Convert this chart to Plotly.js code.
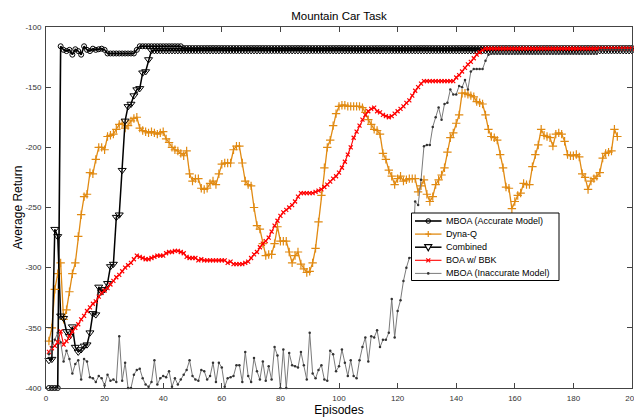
<!DOCTYPE html>
<html>
<head>
<meta charset="utf-8">
<script src="https://cdn.plot.ly/plotly-3.0.1.min.js"></script>
<style>
  html, body { margin: 0; padding: 0; background: #fff; }
  #chart { width: 634px; height: 417px; }
</style>
</head>
<body>
<div id="chart"></div>
<script>
// Average return per episode (episodes start at 1)
const mboaAccurate = [
  -400, -400, -400, -400, -116, -119, -120, -119, -123, -118.5,
  -120, -123, -116, -119, -120, -118, -119, -118.5, -118, -119,
  -122, -122, -122, -122, -122, -122, -122, -122, -122, -122,
  -119, -116, -116, -116, -116, -116, -116, -116, -116, -116,
  -116, -116, -116, -116, -116, -116, -117.5, -117.5, -117.5, -117.5,
  -117.5, -117.5, -117.5, -117.5, -117.5, -117.5, -117.5, -117.5, -117.5, -117.5,
  -117.5, -117.5, -117.5, -117.5, -117.5, -117.5, -117.5, -117.5, -117.5, -117.5,
  -117.5, -117.5, -117.5, -117.5, -117.5, -117.5, -117.5, -117.5, -117.5, -117.5,
  -117.5, -117.5, -117.5, -117.5, -117.5, -117.5, -117.5, -117.5, -117.5, -117.5,
  -117.5, -117.5, -117.5, -117.5, -117.5, -117.5, -117.5, -117.5, -117.5, -117.5,
  -117.5, -117.5, -117.5, -117.5, -117.5, -117.5, -117.5, -117.5, -117.5, -117.5,
  -117.5, -117.5, -117.5, -117.5, -117.5, -117.5, -117.5, -117.5, -117.5, -117.5,
  -117.5, -117.5, -117.5, -117.5, -117.5, -117.5, -117.5, -117.5, -117.5, -117.5,
  -117.5, -117.5, -117.5, -117.5, -117.5, -117.5, -117.5, -117.5, -117.5, -117.5,
  -117.5, -117.5, -117.5, -117.5, -117.5, -117.5, -117.5, -117.5, -117.5, -117.5,
  -117.5, -117.5, -117.5, -117.5, -117.5, -117.5, -117.5, -117.5, -117.5, -117.5,
  -117.5, -117.5, -117.5, -117.5, -117.5, -117.5, -117.5, -117.5, -117.5, -117.5,
  -117.5, -117.5, -117.5, -117.5, -117.5, -117.5, -117.5, -117.5, -117.5, -117.5,
  -117.5, -117.5, -117.5, -117.5, -117.5, -117.5, -117.5, -117.5, -117.5, -117.5,
  -117.5, -117.5, -117.5, -117.5, -117.5, -117.5, -117.5, -117.5, -117.5, -117.5
];

const dynaQ = [
  -361, -350, -318, -305, -296, -343, -335, -320, -305, -296,
  -274, -256, -241, -239, -221, -222, -210, -200, -200, -202,
  -191, -190, -189, -185, -181, -180, -184, -182, -178, -176,
  -175, -184, -186, -187, -188, -187, -188, -189, -188, -187,
  -193, -196, -200, -202, -203, -205, -207, -203, -222, -228,
  -226, -226, -234, -235, -234, -230, -228, -231, -222, -214,
  -213, -213, -213, -202, -199, -199, -213, -228, -231, -232,
  -250, -265, -268, -280, -290, -289, -289, -280, -266, -278,
  -278, -278, -287, -296, -290, -287, -297, -301, -304, -303,
  -296, -284, -262, -240, -217, -200, -194, -182, -172, -166,
  -165, -165, -166, -166, -166, -166, -166, -167, -171, -177,
  -181, -185, -186, -189, -205, -210, -219, -224, -231, -226,
  -224, -228, -227, -226, -226, -226, -237, -232, -227, -239,
  -245, -241, -231, -227, -223, -217, -204, -192, -188, -180,
  -173, -155, -155, -156, -157, -158, -162, -163, -164, -173,
  -185, -191, -192, -194, -206, -217, -233, -234, -251, -245,
  -240, -238, -230, -231, -231, -216, -206, -198, -185, -190,
  -191, -192, -199, -189, -188, -189, -195, -206, -207, -207,
  -206, -208, -222, -225, -235, -228, -226, -224, -221, -209,
  -205, -204, -203, -185, -191
];

const combined = [
  -377, -376, -268, -274, -340, -342, -353, -357, -349, -366,
  -370, -368, -365, -364, -354, -338, -339, -316, -320, -318,
  -313, -299, -297, -258, -256, -219, -178, -166, -164, -157,
  -152, -151, -138, -137, -127, -119.5, -119.5, -119.5, -119.5, -119.5,
  -119.5, -119.5, -119.5, -119.5, -119.5, -119.5, -119.5, -119.5, -119.5, -119.5,
  -119.5, -119.5, -119.5, -119.5, -119.5, -119.5, -119.5, -119.5, -119.5, -119.5,
  -119.5, -119.5, -119.5, -119.5, -119.5, -119.5, -119.5, -119.5, -119.5, -119.5,
  -119.5, -119.5, -119.5, -119.5, -119.5, -119.5, -119.5, -119.5, -119.5, -119.5,
  -119.5, -119.5, -119.5, -119.5, -119.5, -119.5, -119.5, -119.5, -119.5, -119.5,
  -119.5, -119.5, -119.5, -119.5, -119.5, -119.5, -119.5, -119.5, -119.5, -119.5,
  -119.5, -119.5, -119.5, -119.5, -119.5, -119.5, -119.5, -119.5, -119.5, -119.5,
  -119.5, -119.5, -119.5, -119.5, -119.5, -119.5, -119.5, -119.5, -119.5, -119.5,
  -119.5, -119.5, -119.5, -119.5, -119.5, -119.5, -119.5, -119.5, -119.5, -119.5,
  -119.5, -119.5, -119.5, -119.5, -119.5, -119.5, -119.5, -119.5, -119.5, -119.5,
  -119.5, -119.5, -119.5, -119.5, -119.5, -119.5, -119.5, -119.5, -119.5, -119.5,
  -119.5, -119.5, -119.5, -119.5, -119.5, -119.5, -119.5, -119.5, -119.5, -119.5,
  -119.5, -119.5, -119.5, -119.5, -119.5, -119.5, -119.5, -119.5, -119.5, -119.5,
  -119.5, -119.5, -119.5, -119.5, -119.5, -119.5, -119.5, -119.5, -119.5, -119.5,
  -119.5, -119.5, -119.5, -119.5, -119.5, -119.5, -119.5, -119.5, -119.5, -119.5,
  -119.5, -119.5, -119.5, -119.5, -119.5, -119.5, -119.5, -119.5, -119.5, -119.5
];

const boaBBK = [
  -370, -367, -365, -362, -353, -364, -361, -357, -353, -350,
  -347, -343, -340, -336, -333, -330, -328, -324, -321, -319,
  -317, -314, -311, -308, -306, -303, -300, -298, -296, -293,
  -290, -291, -292, -293, -293, -292, -291, -290, -290, -290,
  -288, -287, -287, -286, -286, -287, -288, -291, -292, -292,
  -292, -294, -293, -294, -294, -294, -294, -294, -294, -294,
  -294, -296, -295, -297, -297, -297, -297, -296, -295, -292,
  -289, -287, -283, -280, -278, -275, -270, -265, -261, -257,
  -254, -252, -250, -248, -245, -241, -238, -238, -238, -238,
  -238, -237, -236, -235, -233, -231, -228.5, -226, -224, -221,
  -217, -212, -206, -200, -192, -187, -182, -177, -173, -170,
  -168, -167, -170, -171, -173, -174, -175, -174, -172, -170,
  -168, -166, -163, -161, -157, -153, -150, -147, -145, -145,
  -145, -145, -145, -145, -145, -145, -145, -145, -145, -142,
  -140, -137, -134, -131, -129, -126, -123, -121, -119, -118,
  -118, -118, -118, -118, -118, -118, -118, -118, -118, -118,
  -118, -118, -118, -118, -118, -118, -118, -118, -118, -118,
  -118, -118, -118, -118, -118, -118, -118, -118, -118, -118,
  -118, -118, -118, -118, -118, -118, -118, -118, -118, -118,
  -118, -118, -118, -118, -118, -118, -118, -118, -118, -118
];

const mboaInaccurate = [
  -372, -366, -360, -354, -362, -378, -369, -376, -388, -380,
  -377, -393, -376, -378, -391, -392, -395, -390, -392, -398,
  -389, -394, -393, -395, -357, -394, -379, -400, -400, -389,
  -385, -384, -392, -397, -399, -395, -377, -397, -392, -390,
  -391, -386, -399, -392, -397, -393, -389, -385, -377, -390,
  -393, -394, -385, -386, -393, -390, -379, -395, -379, -383,
  -399, -392, -391, -390, -381, -381, -395, -370, -390, -395,
  -375, -386, -393, -378, -394, -382, -393, -366, -373, -400,
  -368, -400, -371, -381, -382, -383, -370, -381, -393, -354,
  -388, -392, -385, -381, -393, -394, -369, -372, -386, -382,
  -368, -379, -390, -377, -390, -392, -377, -366, -358, -378,
  -357, -358, -352, -366, -360, -360, -354, -326, -358, -336,
  -327, -311, -300, -292, -291, -245, -248, -227, -199, -198,
  -198, -183, -175, -167, -177, -164, -163, -152, -156, -156,
  -149, -150, -144, -152, -137, -135, -135, -135, -135, -128,
  -123, -122.3, -122.3, -122.3, -122.3, -122.3, -122.3, -122.3, -122.3, -122.3,
  -122.3, -122.3, -122.3, -122.3, -122.3, -122.3, -122.3, -122.3, -122.3, -122.3,
  -122.3, -122.3, -122.3, -122.3, -122.3, -122.3, -122.3, -122.3, -122.3, -122.3,
  -122.3, -122.3, -122.3, -122.3, -122.3, -122.3, -122.3, -122.3, -119, -119,
  -119, -119, -119, -119, -119, -119, -119, -119, -119, -119
];

const seriesNames = [
  'MBOA (Accurate Model)',
  'Dyna-Q',
  'Combined',
  'BOA w/ BBK',
  'MBOA (Inaccurate Model)'
];

const xTicks = [0, 20, 40, 60, 80, 100, 120, 140, 160, 180, 200];
const yTicks = [-400, -350, -300, -250, -200, -150, -100];

// episode index for a run of returns
const episodesFor = vals => vals.map((_, i) => i + 1);

const FONT = 'Liberation Sans, Arial, Helvetica, sans-serif';
const ORANGE = '#E18A12';
const GRAY_LINE = '#7a7a7a';

const styles = [
  { color: '#000000', width: 1.6, symbol: 'circle-open', size: 5, mline: 1 },
  { color: ORANGE, width: 1.3, symbol: 'cross-thin-open', size: 6, mline: 1.2 },
  { color: '#000000', width: 1.5, symbol: 'triangle-down-open', size: 7, mline: 1 },
  { color: '#FF0000', width: 1.1, symbol: 'x-thin-open', size: 4, mline: 1.2 },
  { color: GRAY_LINE, width: 1, symbol: 'circle', size: 2.5, mline: 0, mcolor: '#333333' }
];

const seriesValues = [mboaAccurate, dynaQ, combined, boaBBK, mboaInaccurate];

const traces = seriesValues.map((vals, i) => {
  const s = styles[i];
  const mcolor = s.mcolor || s.color;
  return {
    name: seriesNames[i], x: episodesFor(vals), y: vals,
    mode: 'lines+markers', cliponaxis: false, showlegend: false,
    line: { color: s.color, width: s.width },
    marker: { symbol: s.symbol, size: s.size, color: mcolor, line: { width: s.mline, color: mcolor } }
  };
});

// ---- legend box drawn as layout decorations (pixel placement -> paper units)
const PLOT = { left: 46, right: 632, top: 27, bottom: 388 };
const px2x = p => (p - PLOT.left) / (PLOT.right - PLOT.left);
const px2y = p => (PLOT.bottom - p) / (PLOT.bottom - PLOT.top);

const LEG = { x0: 411.5, x1: 559, y0: 213, y1: 280.5, firstRow: 221, rowGap: 13.1,
              sampleX0: 415, sampleX1: 441.5, textX: 443.5 };

const shapes = [{
  type: 'rect', xref: 'paper', yref: 'paper', layer: 'above',
  x0: px2x(LEG.x0), x1: px2x(LEG.x1), y0: px2y(LEG.y1), y1: px2y(LEG.y0),
  fillcolor: '#ffffff', line: { color: '#000000', width: 1 }
}];
const annotations = [];

const seg = (xa, ya, xb, yb, color, width) => ({
  type: 'line', xref: 'paper', yref: 'paper', layer: 'above',
  x0: px2x(xa), y0: px2y(ya), x1: px2x(xb), y1: px2y(yb),
  line: { color, width }
});

seriesNames.forEach((name, i) => {
  const s = styles[i];
  const cy = LEG.firstRow + i * LEG.rowGap;
  const cx = (LEG.sampleX0 + LEG.sampleX1) / 2;
  shapes.push(seg(LEG.sampleX0, cy, LEG.sampleX1, cy, s.color, s.width));
  if (s.symbol === 'circle-open') {
    shapes.push({ type: 'circle', xref: 'paper', yref: 'paper', layer: 'above',
      x0: px2x(cx - 2.3), x1: px2x(cx + 2.3), y0: px2y(cy + 2.3), y1: px2y(cy - 2.3),
      fillcolor: 'rgba(0,0,0,0)', line: { color: s.color, width: 1 } });
  } else if (s.symbol === 'cross-thin-open') {
    shapes.push(seg(cx - 3, cy, cx + 3, cy, s.color, 1.2));
    shapes.push(seg(cx, cy - 3, cx, cy + 3, s.color, 1.2));
  } else if (s.symbol === 'triangle-down-open') {
    const pts = [[cx - 3.5, cy - 2.5], [cx + 3.5, cy - 2.5], [cx, cy + 3.5]]
      .map(p => px2x(p[0]) + ',' + px2y(p[1]));
    shapes.push({ type: 'path', xref: 'paper', yref: 'paper', layer: 'above',
      path: 'M' + pts.join(' L') + ' Z', fillcolor: '#ffffff', line: { color: s.color, width: 1.2 } });
  } else if (s.symbol === 'x-thin-open') {
    shapes.push(seg(cx - 2, cy - 2, cx + 2, cy + 2, s.color, 1.2));
    shapes.push(seg(cx - 2, cy + 2, cx + 2, cy - 2, s.color, 1.2));
  } else {
    shapes.push({ type: 'circle', xref: 'paper', yref: 'paper', layer: 'above',
      x0: px2x(cx - 1.3), x1: px2x(cx + 1.3), y0: px2y(cy + 1.3), y1: px2y(cy - 1.3),
      fillcolor: s.mcolor, line: { width: 0 } });
  }
  annotations.push({
    xref: 'paper', yref: 'paper', x: px2x(LEG.textX), y: px2y(cy),
    xanchor: 'left', yanchor: 'middle', showarrow: false,
    text: name, font: { family: FONT, size: 9, color: '#000000' }
  });
});

const axisStyle = {
  showline: true, linecolor: '#444444', linewidth: 1, mirror: 'ticks',
  ticks: 'inside', ticklen: 5, tickwidth: 1, tickcolor: '#444444',
  showgrid: false, zeroline: false,
  tickfont: { family: FONT, size: 8, color: '#333333' }
};

const layout = {
  width: 634, height: 417,
  margin: { l: PLOT.left, r: 634 - PLOT.right, t: PLOT.top, b: 417 - PLOT.bottom, autoexpand: false },
  paper_bgcolor: '#ffffff', plot_bgcolor: '#ffffff',
  font: { family: FONT, color: '#000000' },
  title: {
    text: 'Mountain Car Task',
    font: { family: FONT, size: 11.5, color: '#000000' },
    xref: 'paper', x: 0.5, xanchor: 'center',
    yref: 'container', y: 1 - 16 / 417, yanchor: 'middle'
  },
  xaxis: Object.assign({}, axisStyle, {
    range: [0, 200], tickvals: xTicks, ticktext: xTicks.map(String),
    ticklabelstandoff: 2, ticklabeloverflow: 'allow',
    title: { text: 'Episodes', font: { family: FONT, size: 12, color: '#000000' }, standoff: 6 }
  }),
  yaxis: Object.assign({}, axisStyle, {
    range: [-400, -100], tickvals: yTicks, ticktext: yTicks.map(String),
    ticklabelstandoff: 2,
    title: { text: 'Average Return', font: { family: FONT, size: 12, color: '#000000' }, standoff: 0 }
  }),
  showlegend: false,
  shapes: shapes,
  annotations: annotations
};

Plotly.newPlot('chart', traces, layout, { displayModeBar: false, staticPlot: true });
</script>
</body>
</html>
